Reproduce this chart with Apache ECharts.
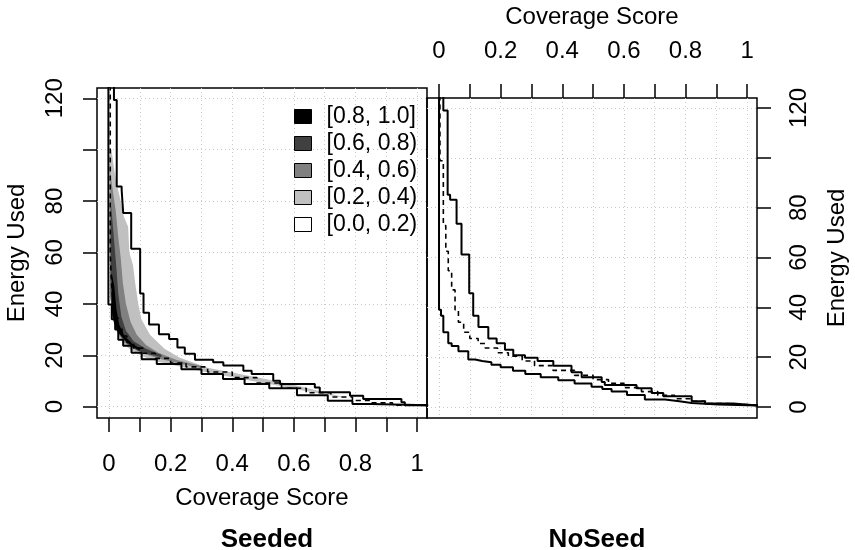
<!DOCTYPE html>
<html>
<head>
<meta charset="utf-8">
<script src="https://cdn.jsdelivr.net/npm/echarts@6/dist/echarts.min.js"></script>
<style>html,body{margin:0;padding:0;background:#fff}#c{width:855px;height:550px}</style>
</head>
<body>
<div id="c"></div>
<script>
// ---------- data ----------
const xTicks = [0, 0.1, 0.2, 0.3, 0.4, 0.5, 0.6, 0.7, 0.8, 0.9, 1];
const xTickLabels = [0, 0.2, 0.4, 0.6, 0.8, 1];
const yTicks = [0, 20, 40, 60, 80, 100, 120];
const yTickLabels = [0, 20, 40, 60, 80, 120];
const legendNames = ['[0.8, 1.0]', '[0.6, 0.8)', '[0.4, 0.6)', '[0.2, 0.4)', '[0.0, 0.2)'];
const legendColors = ['#000000', '#404040', '#808080', '#c0c0c0', '#ffffff'];

// Seeded panel: step curves (coverage where step drops, energy after drop)
const seededUpperX = [0.016, 0.016, 0.025, 0.041, 0.046, 0.072, 0.101, 0.112, 0.13, 0.162, 0.195, 0.222, 0.246, 0.279, 0.338, 0.371, 0.436, 0.463, 0.533, 0.555, 0.668, 0.684, 0.782, 0.825, 0.949, 0.96, 1.04];
const seededUpperE = [125, 119.3, 85.7, 84.4, 75.4, 61.5, 44, 36.6, 32, 28.2, 26.3, 23, 20.6, 18.3, 17.3, 16, 14, 12.7, 10.1, 8.8, 7.5, 5.6, 4.3, 3, 1.7, 0.6, 0.6];
const seededLowerX = [-0.002, -0.002, 0.009, 0.02, 0.03, 0.046, 0.073, 0.106, 0.155, 0.235, 0.3, 0.37, 0.44, 0.52, 0.61, 0.71, 0.79, 0.85, 1.04];
const seededLowerE = [125, 39.8, 34, 30, 26, 23.7, 21, 18.5, 16.6, 14.6, 12.7, 10.8, 8.8, 7.2, 4.5, 2.3, 1, 0.5, 0.5];
const seededMedX = [0.004, 0.004, 0.008, 0.013, 0.02, 0.03, 0.042, 0.058, 0.08, 0.11, 0.15, 0.2, 0.25, 0.32, 0.4, 0.48, 0.56, 0.64, 0.72, 0.79, 0.85, 0.92, 1.04];
const seededMedE = [125, 60, 48, 40, 34.5, 30.5, 27.5, 25, 22.8, 20.8, 18.8, 17, 15.5, 13.5, 11.3, 9.2, 7.2, 5.4, 3.8, 2.4, 1.5, 0.6, 0.6];

// Seeded panel: shaded density bands (outline points: coverage, energy)
const band02X = [0.003, 0.003, 0.006, 0.012, 0.022, 0.035, 0.05, 0.075, 0.11, 0.16, 0.24, 0.32, 0.42, 0.52, 0.62, 0.7, 0.76, 0.78, 0.7, 0.62, 0.52, 0.42, 0.32, 0.23, 0.18, 0.133, 0.105, 0.095, 0.085, 0.078, 0.066, 0.062, 0.048, 0.038, 0.026, 0.016, 0.008];
const band02E = [100, 50, 40, 34, 30, 26.5, 24, 21.8, 19.5, 17.5, 15.3, 13.3, 11, 8.8, 6.5, 4.8, 3.5, 3.2, 5.5, 8, 10.5, 12.8, 15.2, 19, 22.5, 28, 34, 40, 48, 55, 60, 70, 74, 80, 86, 93, 100];
const band04X = [0.004, 0.004, 0.01, 0.02, 0.035, 0.05, 0.08, 0.12, 0.17, 0.24, 0.3, 0.3, 0.22, 0.16, 0.12, 0.09, 0.07, 0.055, 0.045, 0.038, 0.03, 0.022, 0.01];
const band04E = [92, 45, 36, 31, 27.5, 25, 22.5, 20.3, 18.5, 16.5, 15, 15.8, 18.2, 21, 24, 28, 33, 40, 48, 58, 66, 76, 86];
const band06X = [0.005, 0.005, 0.012, 0.022, 0.04, 0.06, 0.09, 0.13, 0.17, 0.17, 0.12, 0.08, 0.055, 0.04, 0.03, 0.024, 0.017, 0.01];
const band06E = [80, 42, 35, 30.5, 27, 24.5, 22, 20.3, 19.2, 20.2, 22.5, 25.5, 29.5, 35, 44, 54, 64, 74];
const band08X = [0.009, 0.009, 0.016, 0.03, 0.05, 0.075, 0.1, 0.1, 0.075, 0.05, 0.033, 0.024, 0.017];
const band08E = [52, 38, 33, 29, 26, 23.5, 21.8, 22.6, 24.6, 27.5, 32, 38, 47];

// NoSeed panel step curves
const noSeedUpperX = [0.014, 0.014, 0.028, 0.036, 0.057, 0.073, 0.098, 0.111, 0.128, 0.16, 0.187, 0.214, 0.241, 0.279, 0.32, 0.371, 0.43, 0.463, 0.528, 0.538, 0.641, 0.69, 0.728, 0.82, 0.863, 0.955, 1.04];
const noSeedUpperE = [125, 119, 85.2, 83.2, 73.5, 61.2, 45.7, 36.6, 32.1, 27.5, 25.6, 23, 20.8, 19.8, 18.5, 16.6, 14, 12, 10, 8.8, 7.5, 5.6, 4.3, 2.3, 1.4, 0.6, 0.6];
const noSeedLowerX = [0.0, 0.0, 0.0065, 0.014, 0.03, 0.041, 0.063, 0.095, 0.117, 0.14, 0.17, 0.2, 0.24, 0.28, 0.33, 0.387, 0.44, 0.495, 0.53, 0.56, 0.61, 0.668, 0.733, 0.78, 0.82, 0.906, 1.04];
const noSeedLowerE = [125, 39, 36.6, 30, 25.6, 24.5, 22.4, 19.1, 18.5, 18, 17, 16, 14.6, 13.3, 12, 10.7, 9.4, 8.1, 7.2, 6.2, 4.8, 3, 2.3, 1.6, 1, 0.6, 0.6];
const noSeedMedX = [0.003, 0.003, 0.014, 0.022, 0.03, 0.041, 0.052, 0.063, 0.08, 0.1, 0.127, 0.15, 0.19, 0.225, 0.27, 0.31, 0.37, 0.44, 0.5, 0.55, 0.6, 0.657, 0.71, 0.765, 0.82, 0.873, 0.93, 1.04];
const noSeedMedE = [125, 98.8, 72.8, 62.5, 54.7, 47, 39, 34, 30, 27.5, 25.5, 23.7, 21.8, 20.4, 18.5, 16.6, 14.7, 12.7, 11, 9.5, 7.8, 6.2, 4.7, 3.3, 2.3, 1.4, 0.6, 0.6];

// ---------- build ----------
const FONT = '"Liberation Sans", Arial, Helvetica, sans-serif';
const zip = (xs, es) => xs.map((x, i) => [x, es[i]]);

function stepLine(name, xs, es, idx, dashed) {
  return {
    type: 'line', name: name, xAxisIndex: idx, yAxisIndex: idx,
    data: zip(xs, es), step: 'end', showSymbol: false, symbol: 'none',
    clip: true, z: 5, silent: true,
    lineStyle: { color: '#000', width: dashed ? 1.6 : 2, type: dashed ? [5, 4] : 'solid' }
  };
}

function band(name, color, xs, es) {
  const pts = zip(xs, es);
  return {
    type: 'custom', name: name, xAxisIndex: 0, yAxisIndex: 0, clip: true, z: 2,
    itemStyle: { color: color },
    data: pts,
    renderItem: function (params, api) {
      if (params.dataIndex !== 0) return null;
      const poly = pts.map(p => api.coord(p));
      return { type: 'polygon', shape: { points: poly }, style: { fill: color } };
    }
  };
}

const gridLine = { show: true, lineStyle: { color: '#c8c8c8', width: 1, type: [1, 3] } };
const tickStyle = { show: true, inside: false, length: 14, lineStyle: { color: '#000', width: 1.5 } };
const labelFont = { color: '#000', fontSize: 24, fontFamily: FONT };

function xAxis(idx, pos) {
  const top = pos === 'top';
  return {
    type: 'value', gridIndex: idx, position: pos, min: -0.039, max: 1.032,
    axisLine: { show: false, onZero: false },
    axisTick: Object.assign({ customValues: xTicks }, tickStyle),
    axisLabel: Object.assign({ customValues: xTickLabels, margin: top ? 35 : 34, formatter: v => String(v) }, labelFont),
    splitLine: gridLine,
    name: 'Coverage Score', nameLocation: 'middle', nameGap: top ? 69 : 68,
    nameTextStyle: { color: '#000', fontSize: 24, fontFamily: FONT }
  };
}
function yAxis(idx, pos) {
  return {
    type: 'value', gridIndex: idx, position: pos, min: -4.4, max: 124,
    axisLine: { show: false, onZero: false },
    axisTick: Object.assign({ customValues: yTicks }, tickStyle),
    axisLabel: Object.assign({ customValues: yTickLabels, rotate: 90, margin: 30 }, labelFont),
    splitLine: gridLine,
    name: 'Energy Used', nameLocation: 'middle', nameGap: 68, nameRotate: 90,
    nameTextStyle: { color: '#000', fontSize: 24, fontFamily: FONT }
  };
}

const bandSeries = [
  band(legendNames[3], legendColors[3], band02X, band02E),
  band(legendNames[2], legendColors[2], band04X, band04E),
  band(legendNames[1], legendColors[1], band06X, band06E),
  band(legendNames[0], legendColors[0], band08X, band08E),
  { type: 'custom', name: legendNames[4], xAxisIndex: 0, yAxisIndex: 0, itemStyle: { color: legendColors[4] }, data: [], renderItem: () => null }
];

const option = {
  animation: false,
  backgroundColor: '#fff',
  grid: [
    { left: 97, top: 88, width: 330, height: 330, show: true, borderColor: '#000', borderWidth: 1.5, backgroundColor: 'transparent' },
    { left: 427, top: 88, width: 330, height: 330, show: true, borderColor: '#000', borderWidth: 1.5, backgroundColor: 'transparent' }
  ],
  xAxis: [xAxis(0, 'bottom'), xAxis(1, 'top')],
  yAxis: [yAxis(0, 'left'), yAxis(1, 'right')],
  title: [
    { text: 'Seeded', left: 262, top: 522, textAlign: 'center', textStyle: { fontSize: 26, fontWeight: 'bold', fontFamily: FONT, color: '#000' } },
    { text: 'NoSeed', left: 592, top: 522, textAlign: 'center', textStyle: { fontSize: 26, fontWeight: 'bold', fontFamily: FONT, color: '#000' } }
  ],
  legend: {
    data: legendNames, orient: 'vertical', left: 289, top: 100, icon: 'rect',
    itemWidth: 17, itemHeight: 14, itemGap: 4, selectedMode: false,
    itemStyle: { borderColor: '#000', borderWidth: 1 },
    textStyle: { fontSize: 23, lineHeight: 23, fontFamily: FONT, color: '#000', padding: [0, 0, 0, 10] }
  },
  series: bandSeries.concat([
    stepLine('sUpper', seededUpperX, seededUpperE, 0, false),
    stepLine('sLower', seededLowerX, seededLowerE, 0, false),
    stepLine('sMed', seededMedX, seededMedE, 0, true),
    stepLine('nUpper', noSeedUpperX, noSeedUpperE, 1, false),
    stepLine('nLower', noSeedLowerX, noSeedLowerE, 1, false),
    stepLine('nMed', noSeedMedX, noSeedMedE, 1, true)
  ])
};

const chart = echarts.init(document.getElementById('c'), null, { renderer: 'canvas' });
chart.setOption(option);
</script>
</body>
</html>
